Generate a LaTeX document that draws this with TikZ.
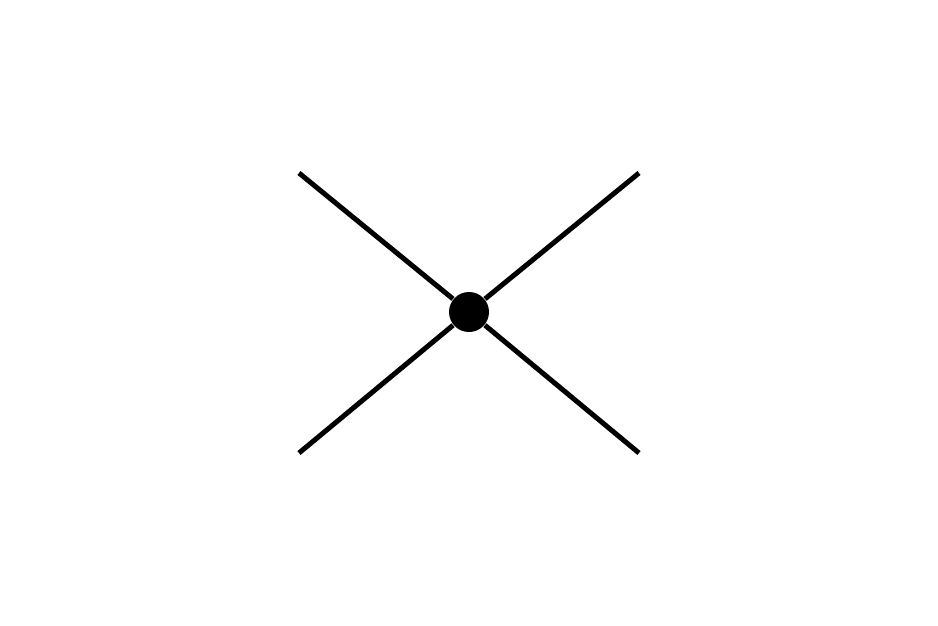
\documentclass[tikz,border=0pt]{standalone}
\usetikzlibrary{positioning}

\begin{document}
\begin{tikzpicture}[
        vertex/.style={circle,fill=black,inner sep=0pt,minimum size=4mm},
        leg/.style={line width=0.5mm}]
        \useasboundingbox (0,0) rectangle (9.38,6.25);
        \node[vertex] (centre) at (4.69,3.13) {};
        \coordinate (upper left) at (2.99,4.52);
        \coordinate (upper right) at (6.39,4.52);
        \coordinate (lower left) at (2.99,1.72);
        \coordinate (lower right) at (6.39,1.72);

        \foreach \corner in {upper left,upper right,lower left,lower right}
                \draw[leg] (centre) -- (\corner);
\end{tikzpicture}
\end{document}
